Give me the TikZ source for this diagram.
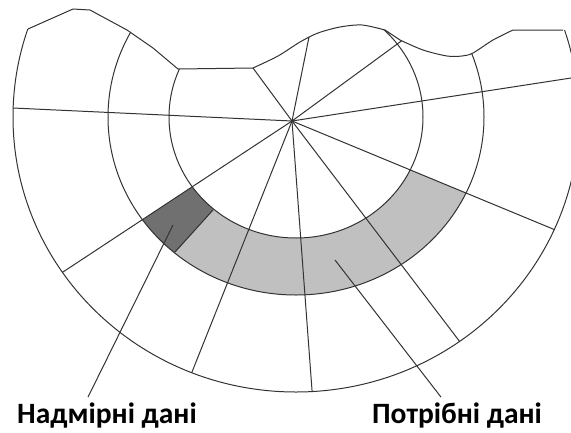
\documentclass[tikz,border=0pt]{standalone}
\usepackage{fontspec}
\setmainfont{Carlito}
\usepackage{tikz}
\usetikzlibrary{calc}
\definecolor{CellDark}{RGB}{112,112,112}
\definecolor{CellLight}{RGB}{192,192,192}

\begin{document}
\begin{tikzpicture}[x=1pt, y=-1pt,
		grid/.style={draw=black!80, line width=1pt},
		lbl/.style={font=\fontsize{29.5}{34}\selectfont\bfseries, anchor=base, inner sep=5pt}]
		\useasboundingbox (0,0) rectangle (571,432);
		\clip (0,0) rectangle (571,432);
		
		\coordinate (C) at (292,121);
		\coordinate (E) at (296,117);
		\def\rim{(28,29) -- (73,9) -- (90,10) -- (127,30) -- (153,48) -- (178,69) -- (253,68)
			-- plot[smooth] coordinates {(253,68) (278,56) (300,42) (318,33) (340,27) (362,25) (385,30)}
			-- (400,40)
			-- plot[smooth] coordinates {(400,40) (423,50) (447,56) (462,56) (473,53) (493,40) (513,30)}
			-- (563,30)}
		
		\begin{scope}
			\clip \rim -- (700,30) -- (700,700) -- (-100,700) -- (-100,29) -- cycle;
			\begin{scope}
				\clip (E) ellipse [x radius=283pt, y radius=275pt];
				% cells of the middle ring
				\begin{scope}
					\clip (C) -- ($(C)!4!(213,210)$) -- (292,800) -- ($(C)!3!(553,229)$) -- cycle;
					\fill[CellLight, even odd rule] (E) ellipse [x radius=188pt, y radius=178pt]
						(E) ellipse [x radius=127pt, y radius=121pt];
				\end{scope}
				\begin{scope}
					\clip (C) -- ($(C)!4!(192,187)$) -- ($(C)!4!(213,210)$) -- cycle;
					\fill[CellDark, even odd rule] (E) ellipse [x radius=188pt, y radius=178pt]
						(E) ellipse [x radius=127pt, y radius=121pt];
				\end{scope}
				
				\draw[grid] (E) ellipse [x radius=127pt, y radius=121pt];
				\draw[grid] (E) ellipse [x radius=188pt, y radius=178pt];
				\foreach \px/\py in {13/108, 253/68, 309/37, 400/42, 571/78, 553/229, 457/338, 312/390, 192/372, 63/272}
					\draw[grid] (C) -- ($(C)!3!(\px,\py)$);
				\draw[grid] (213,210) -- (175,252);
			\end{scope}
			\draw[grid] (E) ellipse [x radius=283pt, y radius=275pt];
		\end{scope}
		\draw[grid] \rim;
		
		\coordinate (over) at (173,225);
		\coordinate (need) at (335,260);
		\node[lbl] (overlbl) at (107,423) {Надмірні дані};
		\node[lbl] (needlbl) at (457,423) {Потрібні дані};
		\draw[grid] (over) -- ([xshift=-19pt]overlbl.north);
		\draw[grid] (need) -- ([xshift=-16pt]needlbl.north);
	\end{tikzpicture}
\end{document}
